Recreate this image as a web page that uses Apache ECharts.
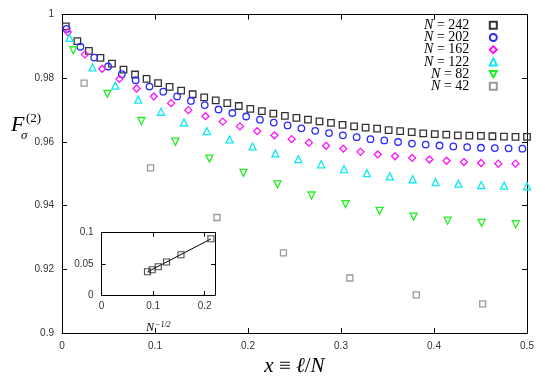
<!DOCTYPE html>
<html><head><meta charset="utf-8">
<script src="https://cdn.jsdelivr.net/npm/echarts@6/dist/echarts.min.js"></script>
<style>html,body{margin:0;padding:0;background:#fff}#c{width:545px;height:382px}</style>
</head><body><div id="c"></div>
<script>
// system sizes N (legend order)
const sizes = [242, 202, 162, 122, 82, 42];
// subsystem lengths ell used for every N (x = ell / N)
const ell = [1,4,7,10,13,16,19,22,25,28,31,34,37,40,43,46,49,52,55,58,61,64,67,70,73,76,79,82,85,88,91,94,97,100,103,106,109,112,115,118,121];
// F_sigma^(2) values
const F242 = [0.9963,0.9917,0.9886,0.9864,0.9846,0.9827,0.9812,0.9798,0.9785,0.9773,0.9761,0.9750,0.9740,0.9731,0.9722,0.9713,0.9704,0.9697,0.9689,0.9682,0.9676,0.9670,0.9665,0.9660,0.9654,0.9649,0.9645,0.9642,0.9637,0.9634,0.9631,0.9627,0.9625,0.9623,0.9621,0.9620,0.9619,0.9618,0.9617,0.9616,0.9616];
const F202 = [0.9955,0.9899,0.9865,0.9837,0.9813,0.9794,0.9774,0.9758,0.9743,0.9729,0.9716,0.9702,0.9691,0.9680,0.9670,0.9661,0.9652,0.9643,0.9635,0.9628,0.9621,0.9615,0.9609,0.9605,0.9600,0.9595,0.9592,0.9589,0.9586,0.9584,0.9582,0.9581,0.9580,0.9579];
const F162 = [0.9945,0.9875,0.9830,0.9798,0.9768,0.9743,0.9722,0.9700,0.9681,0.9664,0.9649,0.9634,0.9621,0.9609,0.9598,0.9588,0.9579,0.9569,0.9561,0.9555,0.9550,0.9545,0.9541,0.9537,0.9534,0.9532,0.9532];
const F122 = [0.9927,0.9834,0.9777,0.9733,0.9695,0.9662,0.9634,0.9608,0.9586,0.9564,0.9546,0.9530,0.9515,0.9502,0.9492,0.9483,0.9474,0.9469,0.9465,0.9463,0.9461];
const F82  = [0.9888,0.9751,0.9666,0.9601,0.9548,0.9503,0.9467,0.9432,0.9405,0.9384,0.9366,0.9353,0.9346,0.9342];
const F42  = [0.9785,0.9519,0.9363,0.9252,0.9173,0.9120,0.9092];
// inset: N^{-1/2} vs offset, plus fit line endpoints
const insetX = [0.089,0.098,0.110,0.126,0.154,0.212];
const insetY = [0.0374,0.0406,0.0454,0.0530,0.0647,0.0904];
const fitX = [0.089,0.212];
const fitY = [0.037,0.090];

const values = [F242,F202,F162,F122,F82,F42];
const styles = [
  {symbol:'rect', color:'#333', size:6.5},
  {symbol:'circle', color:'#2a2aff', size:6.5},
  {symbol:'diamond', color:'#ff10ff', size:7},
  {symbol:'triangle', color:'#10e8f0', size:7},
  {symbol:'path://M0,0L10,0L5,9Z', color:'#20ee20', size:7},
  {symbol:'rect', color:'#9a9a9a', size:6}
];
const serif = 'Liberation Serif';
const sans = 'Liberation Sans';

const mainSeries = sizes.map((n, k) => ({
  name: String(n),
  type: 'scatter',
  xAxisIndex: 0, yAxisIndex: 0,
  symbol: styles[k].symbol,
  symbolSize: styles[k].size,
  itemStyle: {color: 'rgba(255,255,255,0)', borderColor: styles[k].color, borderWidth: 1.3, opacity: 1},
  emphasis: {disabled: true},
  data: values[k].map((v, i) => [ell[i] / n, v])
}));

function frameAxis(extra) {
  return Object.assign({
    type: 'value',
    axisLine: {show: true, onZero: false, lineStyle: {color: '#000', width: 1}},
    axisTick: {show: true, inside: true, length: 5, lineStyle: {color: '#000', width: 1}},
    splitLine: {show: false},
    axisLabel: {show: false}
  }, extra);
}
const lbl = {show: true, color: '#333', fontSize: 10, fontFamily: sans};

const option = {
  animation: false,
  backgroundColor: '#fff',
  grid: [
    {left: 62, right: 18, top: 14.6, bottom: 37.6, show: false},
    {left: 101.6, right: 330, top: 232.7, bottom: 87, show: true, backgroundColor: '#fff', borderWidth: 0, z: 5}
  ],
  xAxis: [
    frameAxis({gridIndex: 0, position: 'bottom', min: 0, max: 0.5, interval: 0.1,
      axisLabel: Object.assign({}, lbl, {margin: 8}),
      name: '{i|x} ≡ {i|ℓ}/{i|N}', nameLocation: 'middle', nameGap: 14,
      nameTextStyle: {fontFamily: serif, fontSize: 21, color: '#000', verticalAlign: 'top',
        rich: {i: {fontFamily: serif, fontStyle: 'italic', fontSize: 21, color: '#000'}}}}),
    frameAxis({gridIndex: 0, position: 'top', min: 0, max: 0.5, interval: 0.1}),
    frameAxis({gridIndex: 1, position: 'bottom', min: 0, max: 0.22, interval: 0.1, z: 6,
      axisTick: {show: true, inside: true, length: 4, lineStyle: {color: '#000'}},
      axisLabel: Object.assign({}, lbl, {margin: 6, showMaxLabel: false}),
      name: '{i|N}{s|−1/2}', nameLocation: 'middle', nameGap: 26,
      nameTextStyle: {fontFamily: serif, fontSize: 12, color: '#000',
        rich: {i: {fontFamily: serif, fontStyle: 'italic', fontSize: 12, color: '#000'},
               s: {fontFamily: serif, fontStyle: 'italic', fontSize: 8, color: '#000', verticalAlign: 'top', padding: [0,0,6,1]}}}}),
    frameAxis({gridIndex: 1, position: 'top', min: 0, max: 0.22, interval: 0.1, z: 6,
      axisTick: {show: true, inside: true, length: 4, lineStyle: {color: '#000'}}})
  ],
  yAxis: [
    frameAxis({gridIndex: 0, position: 'left', min: 0.9, max: 1, interval: 0.02,
      axisLabel: Object.assign({}, lbl, {margin: 8})}),
    frameAxis({gridIndex: 0, position: 'right', min: 0.9, max: 1, interval: 0.02}),
    frameAxis({gridIndex: 1, position: 'left', min: 0, max: 0.1, interval: 0.05, z: 6,
      axisTick: {show: true, inside: true, length: 4, lineStyle: {color: '#000'}},
      axisLabel: Object.assign({}, lbl, {margin: 8})}),
    frameAxis({gridIndex: 1, position: 'right', min: 0, max: 0.1, interval: 0.05, z: 6,
      axisTick: {show: true, inside: true, length: 4, lineStyle: {color: '#000'}}})
  ],
  legend: {
    orient: 'vertical', align: 'right', right: 47.2, top: 18.3, padding: 0,
    itemWidth: 7, itemHeight: 7, itemGap: -1.8,
    selectedMode: false,
    data: sizes.map(String),
    formatter: name => '{i|N} = ' + name,
    textStyle: {fontFamily: serif, fontSize: 14, color: '#000', lineHeight: 12, padding: [0, 15.5, 0, 0],
      rich: {i: {fontFamily: serif, fontStyle: 'italic', fontSize: 14, lineHeight: 12, color: '#000'}}}
  },
  graphic: [
    {type: 'text', left: 11, top: 114, style: {text: 'F', font: 'italic 22px "Liberation Serif"', fill: '#000'}},
    {type: 'text', left: 26, top: 112, style: {text: '(2)', font: '13px "Liberation Serif"', fill: '#000'}},
    {type: 'text', left: 21, top: 129, style: {text: 'σ', font: 'italic 13px "Liberation Serif"', fill: '#000'}}
  ],
  series: mainSeries.concat([
    {type: 'line', xAxisIndex: 2, yAxisIndex: 2, z: 7, showSymbol: false, symbol: 'none', silent: true,
      lineStyle: {color: '#000', width: 1},
      data: fitX.map((x, i) => [x, fitY[i]])},
    {type: 'scatter', xAxisIndex: 2, yAxisIndex: 2, z: 8, symbol: 'rect', symbolSize: 6, silent: true,
      itemStyle: {color: 'rgba(255,255,255,0)', borderColor: '#222', borderWidth: 1.1},
      data: insetX.map((x, i) => [x, insetY[i]])}
  ])
};
const chart = echarts.init(document.getElementById('c'), null, {renderer: 'canvas'});
chart.setOption(option);
</script>
</body></html>
